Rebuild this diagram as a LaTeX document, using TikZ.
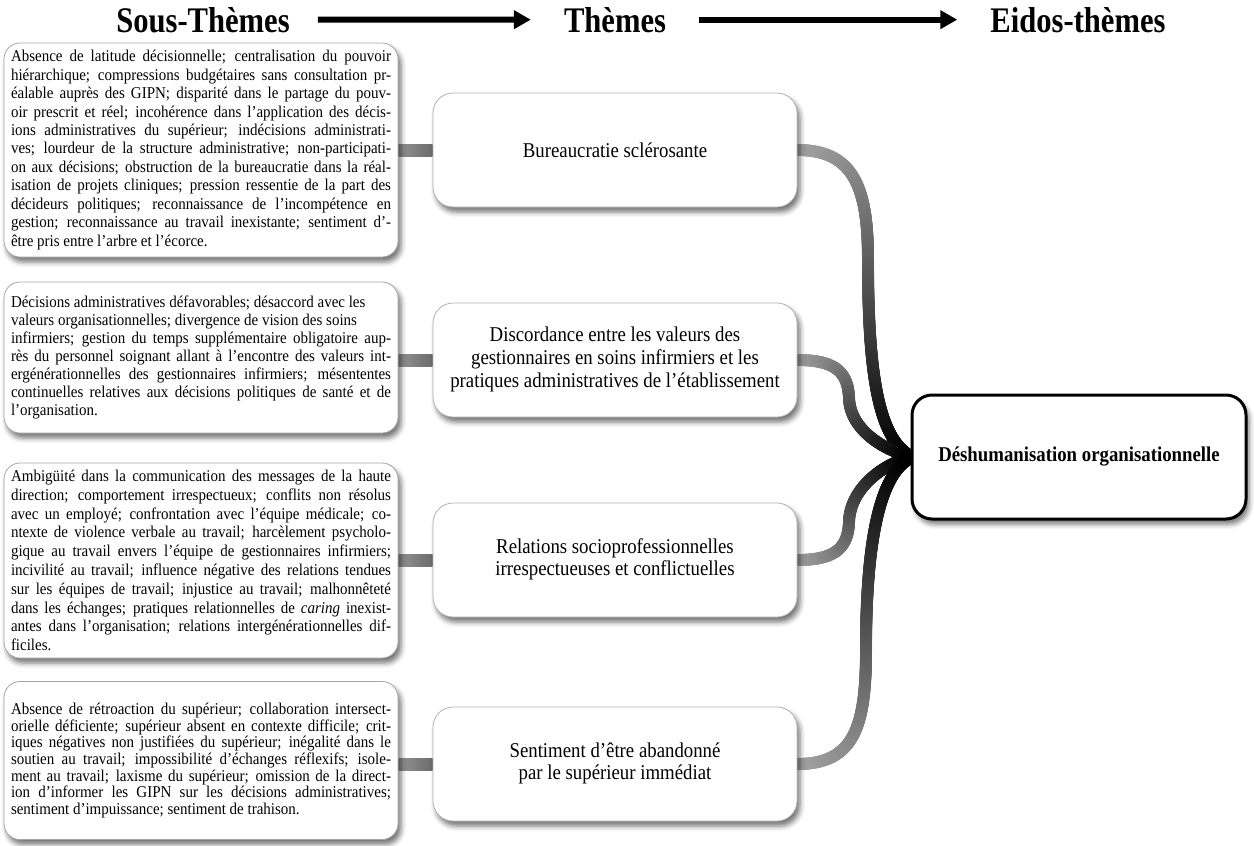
\documentclass[tikz,border=0pt]{standalone}
\usepackage{fontspec}
\setmainfont{Liberation Serif}
\usetikzlibrary{arrows.meta,shadows.blur,decorations.markings,calc,backgrounds}

% width of a justified line inside the sub-theme boxes
\newlength\subw
\setlength\subw{380pt}
\newcommand\jl[1]{\makebox[\subw][s]{#1}}
% slightly tall text block: #1 = baseline skip, #2 = lines
\newcommand\subtext[2]{\scalebox{1}[1.1]{\parbox{\subw}{\fontsize{15}{#1}\selectfont #2}}}
\newcommand\tall[1]{\scalebox{1}[1.12]{#1}}

\begin{document}
\begin{tikzpicture}[x=1pt,y=-1pt,
  softshadow/.style={blur shadow={shadow xshift=3pt, shadow yshift=-5pt,
      shadow blur radius=5pt, shadow opacity=55}},
  title/.style={font=\fontsize{36}{40}\selectfont\bfseries, inner sep=0pt, anchor=base},
  titlearrow/.style={line width=6pt, -{Triangle[length=17pt,width=18pt]}},
  subbox/.style={draw=black!35, line width=0.8pt, fill=white, rounded corners=16pt,
      inner xsep=7pt, inner ysep=0pt, minimum width=394pt, softshadow},
  themebox/.style={draw=black!30, line width=0.8pt, fill=white, rounded corners=20pt,
      minimum width=364pt, minimum height=114pt,
      font=\fontsize{18.8}{20.1}\selectfont, softshadow},
  eidosbox/.style={draw=black, line width=3pt, fill=white, rounded corners=20pt,
      minimum width=334pt, minimum height=124pt,
      font=\fontsize{18.8}{20.1}\selectfont\bfseries, softshadow},
  bar/.style={left color=black!42, right color=black!58},
  fadeline/.style={postaction={decorate}, decoration={markings,
      mark=between positions 0 and 1 step 0.8pt with {
        \pgfmathsetmacro\shadefrac{\pgfkeysvalueof{/pgf/decoration/mark info/distance from start}/\pgfdecoratedpathlength}
        \pgfmathsetmacro\shadepct{35+65*\shadefrac}
        \fill[black!\shadepct] (0,0) circle (6pt);
      }}}
]
\useasboundingbox (0,0) rectangle (1254,846);

% column headings
\node[title] (hs) at (203,32) {\scalebox{0.85}[1]{Sous-Thèmes}};
\node[title] (ht) at (615,32) {\scalebox{0.85}[1]{Thèmes}};
\node[title] (he) at (1078,32) {\scalebox{0.85}[1]{Eidos-thèmes}};
\draw[titlearrow, shorten <=28pt, shorten >=33pt] (hs) -- (ht);
\draw[titlearrow, shorten <=33pt, shorten >=33pt] (ht) -- (he);

% sub-themes
\node[subbox, minimum height=214pt] (s1) at (201,150) {\subtext{16.8}{%
\jl{Absence de latitude décisionnelle; centralisation du pouvoir}\\
\jl{hiérarchique; compressions budgétaires sans consultation pr-}\\
\jl{éalable auprès des GIPN; disparité dans le partage du pouv-}\\
\jl{oir prescrit et réel; incohérence dans l’application des décis-}\\
\jl{ions administratives du supérieur; indécisions administrati-}\\
\jl{ves; lourdeur de la structure administrative; non-participati-}\\
\jl{on aux décisions; obstruction de la bureaucratie dans la réal-}\\
\jl{isation de projets cliniques; pression ressentie de la part des}\\
\jl{décideurs politiques; reconnaissance de l’incompétence en}\\
\jl{gestion; reconnaissance au travail inexistante; sentiment d’-}\\
être pris entre l’arbre et l’écorce.}};

\node[subbox, minimum height=151pt] (s2) at (201,357.5) {\subtext{16.4}{%
Décisions administratives défavorables; désaccord avec les\\
valeurs organisationnelles; divergence de vision des soins\\
\jl{infirmiers; gestion du temps supplémentaire obligatoire aup-}\\
\jl{rès du personnel soignant allant à l’encontre des valeurs int-}\\
\jl{ergénérationnelles des gestionnaires infirmiers; mésententes}\\
\jl{continuelles relatives aux décisions politiques de santé et de}\\
l’organisation.}};

\node[subbox, minimum height=195pt] (s3) at (201,560.5) {\subtext{17.1}{%
\jl{Ambigüité dans la communication des messages de la haute}\\
\jl{direction; comportement irrespectueux; conflits non résolus}\\
\jl{avec un employé; confrontation avec l’équipe médicale; co-}\\
\jl{ntexte de violence verbale au travail; harcèlement psycholo-}\\
\jl{gique au travail envers l’équipe de gestionnaires infirmiers;}\\
\jl{incivilité au travail; influence négative des relations tendues}\\
\jl{sur les équipes de travail; injustice au travail; malhonnêteté}\\
\jl{dans les échanges; pratiques relationnelles de \textit{caring} inexist-}\\
\jl{antes dans l’organisation; relations intergénérationnelles dif-}\\
ficiles.}};

\node[subbox, minimum height=158pt] (s4) at (201,760.5) {\subtext{15.1}{%
\jl{Absence de rétroaction du supérieur; collaboration intersect-}\\
\jl{orielle déficiente; supérieur absent en contexte difficile; crit-}\\
\jl{iques négatives non justifiées du supérieur; inégalité dans le}\\
\jl{soutien au travail; impossibilité d’échanges réflexifs; isole-}\\
\jl{ment au travail; laxisme du supérieur; omission de la direct-}\\
\jl{ion d’informer les GIPN sur les décisions administratives;}\\
sentiment d’impuissance; sentiment de trahison.}};

% themes
\node[themebox] (t1) at (615,150) {\tall{Bureaucratie sclérosante}};
\node[themebox] (t2) at (615,360) {\tall{\begin{tabular}{@{}c@{}}Discordance entre les valeurs des\\gestionnaires en soins infirmiers et les\\pratiques administratives de l’établissement\end{tabular}}};
\node[themebox] (t3) at (615,560) {\tall{\begin{tabular}{@{}c@{}}Relations socioprofessionnelles\\irrespectueuses et conflictuelles\end{tabular}}};
\node[themebox] (t4) at (615,764) {\tall{\begin{tabular}{@{}c@{}}Sentiment d’être abandonné\\par le supérieur immédiat\end{tabular}}};

% eidos-theme
\node[eidosbox] (e) at (1079,457) {\tall{Déshumanisation organisationnelle}};

\begin{scope}[on background layer]
  % sub-theme -> theme links
  \foreach \i in {1,...,4}{
    \shade[bar] ($(s\i.east |- t\i.west)+(0,-6)$) rectangle ($(t\i.west)+(0,6)$);
  }
  % theme -> eidos-theme links, darkening towards the end
  \path[fadeline] (t1.east) .. controls (855,150) and (868,190) .. (868,260)
        .. controls (868,380) and (880,435) .. ($(e.west)+(-3,-3)$);
  \path[fadeline] (t2.east) .. controls (835,360) and (848,372) .. (849,398)
        .. controls (850,428) and (880,448) .. ($(e.west)+(-3,-1)$);
  \path[fadeline] (t3.east) .. controls (835,560) and (848,548) .. (849,522)
        .. controls (850,490) and (880,466) .. ($(e.west)+(-3,1)$);
  \path[fadeline] (t4.east) .. controls (855,764) and (866,725) .. (866,650)
        .. controls (866,540) and (880,478) .. ($(e.west)+(-3,3)$);
\end{scope}
\end{tikzpicture}
\end{document}
